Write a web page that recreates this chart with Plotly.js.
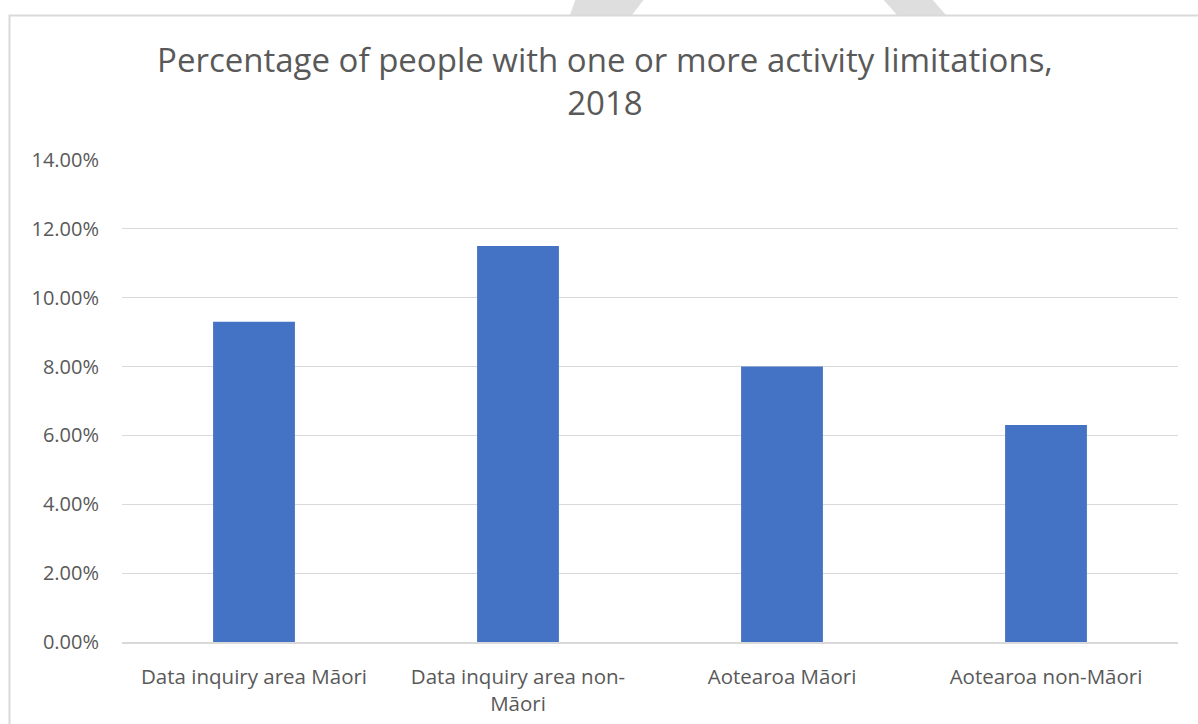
<!DOCTYPE html>
<html>
<head>
<meta charset="utf-8">
<script src="https://cdn.plot.ly/plotly-3.0.1.min.js"></script>
<style>html,body{margin:0;padding:0;background:#fff;}#chart{width:1198px;height:724px;}</style>
</head>
<body>
<div id="chart"></div>
<script>
const categories = ["Data inquiry area Māori", "Data inquiry area non-<br>Māori", "Aotearoa Māori", "Aotearoa non-Māori"];
const values = [0.093, 0.115, 0.080, 0.063];
const titleText = "Percentage of people with one or more activity limitations,<br>2018";

const W = 1198, H = 724, L = 122, R = 20, T = 160, B = 82;
const pw = W - L - R, ph = H - T - B;
const px = x => ((x - L) / pw).toFixed(5);
const py = y => ((H - B - y) / ph).toFixed(5);

const trace = {
  type: "bar",
  x: categories,
  y: values,
  marker: {color: "#4472c4"},
  hoverinfo: "x+y"
};

const layout = {
  width: W, height: H,
  margin: {l: L, r: R, t: T, b: B},
  paper_bgcolor: "#ffffff",
  plot_bgcolor: "#ffffff",
  bargap: 0.69,
  showlegend: false,
  font: {family: "Open Sans, Noto Sans, sans-serif", color: "#595959"},
  title: {
    text: titleText,
    font: {size: 33, color: "#595959", family: "Open Sans, Noto Sans, sans-serif"},
    x: 0.505, xanchor: "center",
    yref: "container", y: 1 - 72 / H, yanchor: "top"
  },
  xaxis: {
    type: "category",
    tickfont: {size: 20.5, color: "#595959"},
    showgrid: false,
    showline: true, linecolor: "#d9d9d9", linewidth: 1.5,
    ticks: "", ticklabelstandoff: 16,
    fixedrange: true
  },
  yaxis: {
    range: [0, 0.14],
    dtick: 0.02, tick0: 0,
    tickformat: ".2%",
    tickfont: {size: 20, color: "#595959"},
    gridcolor: "#d9d9d9", gridwidth: 1.2,
    zeroline: false,
    showline: false,
    ticks: "", ticklabelstandoff: 22,
    fixedrange: true
  },
  shapes: [
    // watermark arms peeking above the chart frame
    {type: "path", xref: "paper", yref: "paper", layer: "above",
     path: "M" + px(570) + "," + py(15) + "L" + px(632) + "," + py(15) + "L" + px(645) + "," + py(-2) + "L" + px(576) + "," + py(-2) + "Z",
     fillcolor: "#dedede", line: {width: 0}},
    {type: "path", xref: "paper", yref: "paper", layer: "above",
     path: "M" + px(882) + "," + py(-2) + "L" + px(931) + "," + py(-2) + "L" + px(946) + "," + py(15) + "L" + px(897) + "," + py(15) + "Z",
     fillcolor: "#dedede", line: {width: 0}},
    // chart frame
    {type: "rect", xref: "paper", yref: "paper", layer: "above",
     x0: px(9.5), x1: px(1215), y0: py(15.5), y1: py(740),
     fillcolor: "rgba(0,0,0,0)", line: {color: "#d9d9d9", width: 2}}
  ]
};

Plotly.newPlot("chart", [trace], layout, {displayModeBar: false, staticPlot: true});
</script>
</body>
</html>
